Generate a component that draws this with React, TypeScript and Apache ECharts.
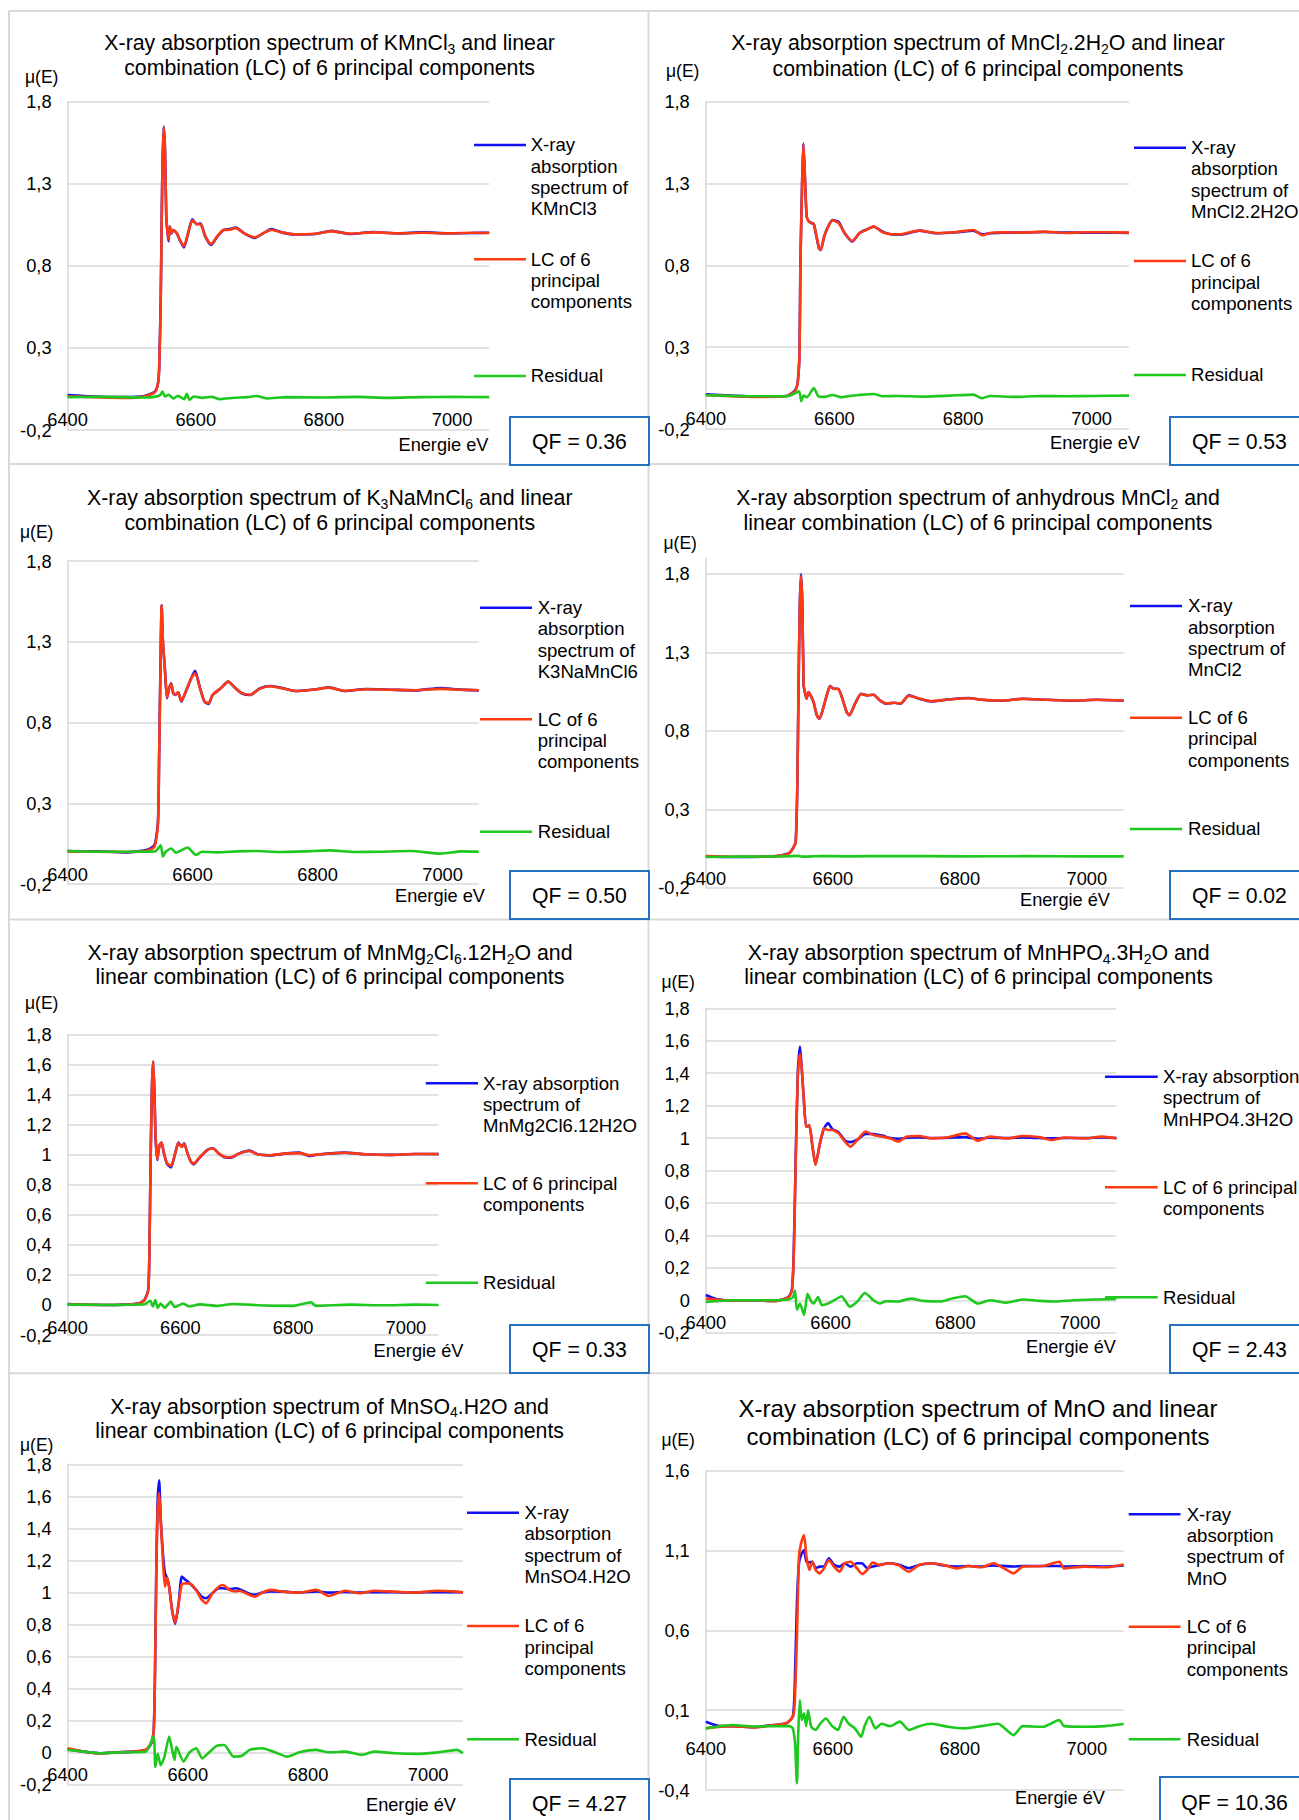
import React, { useEffect, useRef } from "react";
import * as echarts from "echarts";

// ---------------- DATA ----------------
// Panel 1 : KMnCl3
const kmncl3Energy = [6400, 6440, 6488, 6520, 6536, 6541, 6543, 6545.3, 6546.6, 6548, 6550, 6552, 6554, 6556, 6557.6, 6559.6, 6562, 6565, 6570.6, 6575, 6581.6, 6588, 6594.6, 6601, 6607.6, 6615, 6624, 6633.5, 6643, 6653, 6662.7, 6675.7, 6692, 6705, 6718, 6734, 6753.5, 6786, 6812, 6841, 6877, 6916, 6955, 6993.5, 7030, 7058];
const kmncl3Xas = [0.013, 0.004, 0.0, 0.007, 0.033, 0.084, 0.186, 0.59, 1.0, 1.4, 1.648, 1.506, 1.1, 1.0, 0.95, 1.04, 0.998, 1.018, 0.998, 0.957, 0.912, 0.998, 1.083, 1.055, 1.058, 0.978, 0.927, 0.978, 1.018, 1.024, 1.034, 0.998, 0.97, 0.998, 1.024, 1.004, 0.992, 0.994, 1.014, 0.994, 1.006, 0.998, 1.004, 0.998, 1.0, 1.002];
const kmncl3Lc = [0.005, 0.0, -0.004, 0.005, 0.03, 0.08, 0.18, 0.58, 0.99, 1.4, 1.645, 1.51, 1.1, 1.005, 0.96, 1.04, 1.0, 1.018, 0.998, 0.96, 0.92, 0.998, 1.078, 1.055, 1.052, 0.98, 0.932, 0.98, 1.018, 1.02, 1.03, 0.998, 0.974, 0.998, 1.02, 1.004, 0.992, 0.996, 1.01, 0.996, 1.004, 0.998, 1.002, 0.998, 1.002, 1.0];
const kmncl3ResEnergy = [6400, 6460, 6520, 6540, 6545, 6548, 6552, 6558, 6565, 6572, 6582, 6586, 6590, 6597, 6610, 6625, 6637, 6660, 6680, 6695, 6712, 6740, 6800, 6850, 6900, 6950, 7000, 7058];
const kmncl3Residual = [0.0, 0.002, -0.002, 0.005, 0.015, 0.034, 0.005, 0.015, -0.008, 0.008, -0.012, 0.02, -0.016, 0.004, -0.004, 0.002, -0.012, -0.004, 0.0, 0.007, -0.008, 0.0, -0.002, 0.002, -0.004, 0.0, 0.002, 0.0];

// Panel 2 : MnCl2.2H2O
const mncl2h2oEnergy = [6400, 6440, 6474, 6526, 6539, 6543, 6545.8, 6547, 6549.7, 6551.6, 6553.5, 6556.8, 6560.6, 6565, 6568, 6571, 6576, 6578.7, 6584, 6590, 6597, 6606.5, 6616, 6627.7, 6638.7, 6648, 6661, 6674.8, 6690, 6706, 6732, 6758, 6790, 6816, 6830, 6842, 6861, 6894, 6926, 6958, 6990, 7022, 7058];
const mncl2h2oXas = [0.012, 0.004, -0.002, 0.002, 0.038, 0.089, 0.283, 0.79, 1.3, 1.545, 1.4, 1.097, 1.067, 1.057, 1.053, 0.996, 0.904, 0.894, 0.975, 1.036, 1.077, 1.065, 0.996, 0.945, 0.996, 1.016, 1.036, 1.006, 0.989, 0.989, 1.012, 0.996, 1.002, 1.012, 0.99, 0.996, 1.0, 1.0, 1.004, 1.0, 1.0, 1.0, 0.998];
const mncl2h2oLc = [0.008, 0.0, -0.004, 0.002, 0.034, 0.085, 0.27, 0.78, 1.29, 1.54, 1.41, 1.1, 1.065, 1.06, 1.05, 1.0, 0.908, 0.894, 0.975, 1.034, 1.075, 1.058, 0.996, 0.948, 0.996, 1.014, 1.038, 1.002, 0.99, 0.992, 1.012, 0.998, 1.004, 1.016, 0.984, 0.998, 1.002, 1.0, 1.006, 0.998, 1.002, 1.002, 1.0];
const mncl2h2oResEnergy = [6400, 6480, 6530, 6545, 6548.4, 6552, 6557, 6568, 6575, 6584, 6597, 6610, 6623, 6638, 6661, 6675, 6700, 6740, 6780, 6816, 6829, 6842, 6880, 6920, 6960, 7000, 7058];
const mncl2h2oResidual = [0.006, 0.0, 0.002, 0.03, -0.03, 0.004, -0.006, 0.05, 0.0, -0.004, 0.008, -0.006, 0.002, 0.008, 0.014, 0.0, 0.002, -0.002, 0.004, 0.01, -0.012, 0.002, -0.004, 0.002, 0.0, 0.002, 0.004];

// Panel 3 : K3NaMnCl6
const k3namncl6Energy = [6400, 6450, 6493, 6526, 6539, 6544.6, 6546.5, 6548.5, 6550.5, 6552.5, 6556, 6559, 6562.5, 6565.8, 6569, 6572.4, 6577, 6582, 6589, 6597.6, 6604, 6612, 6619, 6625.5, 6632, 6645, 6657, 6668.6, 6678.5, 6692, 6708, 6725, 6745, 6765, 6798, 6818, 6844, 6877, 6917, 6957, 6997, 7023, 7058];
const k3namncl6Xas = [0.004, 0.002, -0.004, 0.01, 0.041, 0.186, 0.6, 1.115, 1.527, 1.3, 1.115, 0.95, 1.012, 1.043, 0.981, 0.97, 0.987, 0.929, 0.99, 1.073, 1.12, 1.012, 0.929, 0.915, 0.97, 1.012, 1.053, 1.012, 0.981, 0.97, 1.012, 1.026, 1.012, 0.995, 1.006, 1.018, 0.995, 1.007, 1.003, 0.999, 1.014, 1.005, 0.999];
const k3namncl6Lc = [0.0, 0.0, -0.002, 0.006, 0.03, 0.17, 0.59, 1.11, 1.527, 1.31, 1.11, 0.955, 1.012, 1.04, 0.985, 0.972, 0.987, 0.932, 0.99, 1.07, 1.105, 1.01, 0.93, 0.92, 0.97, 1.012, 1.053, 1.012, 0.982, 0.972, 1.01, 1.024, 1.01, 0.995, 1.006, 1.016, 0.996, 1.006, 1.003, 1.0, 1.008, 1.004, 1.0];
const k3namncl6ResEnergy = [6400, 6450, 6500, 6540, 6549, 6552.5, 6557, 6566, 6573, 6592, 6605.5, 6615, 6640, 6670, 6700, 6740, 6780, 6820, 6860, 6900, 6950, 6997, 7030, 7058];
const k3namncl6Residual = [0.004, 0.0, 0.0, 0.002, 0.04, -0.03, 0.0, 0.02, -0.006, 0.025, -0.02, 0.0, -0.004, 0.002, 0.004, -0.002, 0.002, 0.008, -0.002, 0.0, 0.004, -0.012, 0.002, 0.0];

// Panel 4 : anhydrous MnCl2
const mncl2Energy = [6400, 6440, 6507.6, 6530, 6537, 6541.5, 6544, 6546, 6548, 6550, 6552, 6554, 6556, 6558.5, 6561.7, 6565, 6569.6, 6574.8, 6579, 6584.6, 6590.4, 6595.6, 6602, 6608.7, 6615, 6621.7, 6626, 6635, 6644.6, 6654, 6664, 6674, 6683.7, 6697, 6706.5, 6719.6, 6736, 6755.4, 6781.5, 6814, 6833.7, 6866, 6899, 6938, 6977, 7016, 7058];
const mncl2Xas = [0.0, -0.004, 0.0, 0.018, 0.05, 0.093, 0.432, 1.068, 1.6, 1.8, 1.6, 1.09, 1.047, 1.005, 1.047, 1.026, 0.983, 0.899, 0.877, 0.941, 1.026, 1.085, 1.068, 1.068, 1.005, 0.92, 0.899, 0.973, 1.036, 1.026, 1.03, 0.994, 0.973, 0.979, 0.973, 1.026, 1.005, 0.988, 1.0, 1.009, 0.998, 0.992, 1.005, 0.998, 0.992, 0.998, 0.992];
const mncl2Lc = [0.002, -0.003, 0.0, 0.016, 0.048, 0.09, 0.42, 1.06, 1.59, 1.79, 1.6, 1.09, 1.05, 1.005, 1.045, 1.026, 0.985, 0.9, 0.879, 0.94, 1.026, 1.083, 1.068, 1.066, 1.006, 0.922, 0.9, 0.973, 1.035, 1.026, 1.03, 0.995, 0.974, 0.979, 0.974, 1.024, 1.006, 0.989, 1.0, 1.008, 0.999, 0.993, 1.004, 0.998, 0.993, 0.998, 0.993];
const mncl2ResEnergy = [6400, 6460, 6520, 6545, 6552, 6580, 6620, 6700, 6800, 6900, 7000, 7058];
const mncl2Residual = [-0.004, -0.002, 0.0, 0.003, -0.002, 0.002, 0.0, 0.002, 0.0, 0.001, 0.0, 0.0];

// Panel 5 : MnMg2Cl6.12H2O
const mnmgEnergy = [6400, 6466, 6525, 6536, 6543, 6545, 6547.4, 6549.6, 6551.8, 6554, 6556, 6559, 6562.8, 6566.5, 6570.9, 6576, 6583.4, 6590.7, 6596.6, 6602.5, 6606.8, 6612.7, 6618.6, 6623.7, 6634.7, 6648, 6658, 6667.7, 6678.7, 6689.7, 6704.4, 6722.7, 6737, 6759, 6788.8, 6810.8, 6829, 6847.4, 6891, 6928, 6972, 7016, 7058];
const mnmgXas = [0.006, 0.0, 0.01, 0.033, 0.1, 0.343, 1.008, 1.452, 1.618, 1.408, 1.119, 0.964, 1.06, 1.08, 1.008, 0.942, 0.915, 1.008, 1.08, 1.053, 1.075, 1.008, 0.953, 0.935, 0.982, 1.031, 1.042, 1.008, 0.982, 0.98, 1.008, 1.026, 1.002, 0.995, 1.008, 1.013, 0.991, 1.002, 1.013, 1.002, 0.998, 1.004, 1.004];
const mnmgLc = [0.004, 0.0, 0.008, 0.03, 0.095, 0.33, 1.0, 1.45, 1.62, 1.41, 1.12, 0.97, 1.058, 1.08, 1.01, 0.945, 0.925, 1.006, 1.078, 1.05, 1.072, 1.008, 0.955, 0.94, 0.984, 1.03, 1.04, 1.008, 0.984, 0.982, 1.008, 1.024, 1.002, 0.996, 1.008, 1.01, 0.996, 1.002, 1.012, 1.002, 0.998, 1.004, 1.003];
const mnmgResEnergy = [6400, 6480, 6536, 6546.7, 6551, 6555.5, 6560, 6565, 6572, 6583, 6590, 6605, 6615, 6635, 6664, 6693, 6750, 6800, 6832, 6840, 6900, 6960, 7020, 7058];
const mnmgResidual = [0.002, 0.0, 0.004, 0.028, -0.01, 0.033, -0.02, 0.01, -0.02, 0.022, -0.014, 0.01, -0.01, 0.004, -0.007, 0.006, -0.004, -0.006, 0.018, -0.006, 0.002, -0.002, 0.002, 0.0];

// Panel 6 : MnHPO4.3H2O
const mnhpo4Energy = [6400, 6416.6, 6443, 6476.5, 6510, 6523, 6533, 6538, 6541, 6544.3, 6547.7, 6551, 6554, 6557.6, 6561, 6566, 6571, 6576, 6583, 6589.6, 6596, 6603, 6613, 6623, 6631.5, 6643, 6656, 6669, 6682.7, 6696, 6708, 6722.6, 6742.6, 6762.5, 6789, 6815.8, 6835.7, 6855.7, 6882, 6909, 6935.5, 6955.4, 6975, 7008.7, 7035, 7058.5];
const mnhpo4Xas = [0.032, 0.008, -0.002, 0.0, -0.004, 0.005, 0.022, 0.063, 0.289, 0.906, 1.42, 1.564, 1.42, 1.214, 1.07, 1.075, 0.95, 0.838, 0.967, 1.06, 1.092, 1.055, 1.035, 0.985, 0.975, 0.99, 1.025, 1.025, 1.015, 1.0, 0.995, 1.002, 1.004, 1.0, 1.002, 1.006, 0.996, 1.002, 1.0, 1.004, 1.0, 0.998, 1.0, 1.0, 1.004, 1.0];
const mnhpo4Lc = [0.01, 0.005, -0.003, 0.0, -0.006, 0.005, 0.02, 0.06, 0.27, 0.88, 1.4, 1.52, 1.42, 1.21, 1.07, 1.08, 0.947, 0.834, 0.967, 1.06, 1.05, 1.05, 1.029, 0.978, 0.947, 0.988, 1.04, 1.019, 1.009, 0.998, 0.978, 1.009, 1.013, 0.998, 1.005, 1.029, 0.984, 1.009, 0.998, 1.013, 1.005, 0.988, 1.003, 0.998, 1.009, 0.998];
const mnhpo4ResEnergy = [6400, 6443, 6510, 6533, 6540, 6543, 6546, 6551, 6557.6, 6563, 6568, 6573, 6580, 6586, 6596, 6606, 6617.5, 6631, 6643, 6655, 6669, 6679, 6689, 6709, 6729, 6749, 6776, 6796, 6815.8, 6836, 6856, 6882, 6909, 6935, 6962, 6989, 7029, 7058];
const mnhpo4Residual = [-0.01, 0.0, 0.0, 0.005, 0.02, 0.06, -0.06, -0.02, -0.09, 0.04, 0.0, -0.02, 0.02, -0.03, -0.02, 0.0, 0.025, -0.04, -0.008, 0.045, 0.0, -0.02, -0.006, -0.008, 0.01, -0.004, -0.008, 0.012, 0.025, -0.02, 0.0, -0.015, 0.005, -0.004, -0.008, 0.0, 0.005, 0.008];

// Panel 7 : MnSO4.H2O
const mnso4Energy = [6400, 6427.6, 6455, 6483, 6510, 6531, 6539.3, 6543.4, 6545.5, 6547.6, 6549.7, 6552.4, 6555, 6558.6, 6562, 6565.5, 6569, 6573.8, 6579, 6584.8, 6590, 6596.6, 6603.4, 6613.8, 6622.8, 6630.3, 6641, 6651.7, 6658.6, 6669, 6680, 6686, 6703, 6711.7, 6724, 6738, 6758.6, 6786, 6813.8, 6834.5, 6862, 6886, 6910, 6945, 6979, 7013.8, 7048, 7058];
const mnso4Xas = [0.02, 0.004, -0.006, 0.0, 0.004, 0.015, 0.056, 0.14, 0.515, 1.14, 1.556, 1.7, 1.452, 1.244, 1.119, 1.088, 1.035, 0.89, 0.802, 0.931, 1.098, 1.077, 1.056, 1.015, 0.973, 0.963, 0.994, 1.025, 1.025, 1.02, 1.025, 1.02, 0.99, 0.985, 0.998, 1.005, 1.004, 0.998, 1.005, 0.998, 1.002, 0.998, 1.002, 1.0, 0.998, 1.002, 1.0, 1.0];
const mnso4Lc = [0.025, 0.004, -0.008, 0.0, 0.004, 0.018, 0.06, 0.14, 0.5, 1.12, 1.5, 1.62, 1.452, 1.2, 1.035, 1.092, 1.035, 0.89, 0.81, 0.931, 1.05, 1.056, 1.056, 1.015, 0.955, 0.931, 0.994, 1.035, 1.046, 1.015, 1.005, 1.01, 0.983, 0.973, 0.998, 1.015, 1.004, 0.998, 1.015, 0.977, 1.01, 0.994, 1.01, 1.004, 0.998, 1.01, 1.004, 0.998];
const mnso4ResEnergy = [6400, 6427, 6455, 6490, 6530, 6543, 6546, 6550, 6555, 6561, 6569, 6574, 6578, 6581, 6593, 6603, 6614, 6624, 6634, 6648, 6660.7, 6676, 6690, 6703, 6724, 6745, 6765.5, 6786, 6813, 6834, 6862, 6890, 6910, 6945, 6979, 7013, 7048, 7058];
const mnso4Residual = [0.015, 0.004, -0.006, 0.0, 0.004, 0.098, -0.09, -0.01, -0.08, -0.03, 0.098, 0.015, -0.048, 0.035, -0.058, 0.0, 0.025, -0.038, -0.006, 0.04, 0.046, -0.027, -0.022, 0.015, 0.025, 0.0, -0.027, 0.0, 0.015, 0.0, 0.004, -0.016, 0.004, -0.006, -0.01, -0.002, 0.015, -0.006];

// Panel 8 : MnO
const mnoEnergy = [6400, 6423, 6442, 6475, 6507.6, 6527, 6537, 6540, 6543.5, 6546.7, 6550, 6554.6, 6558.5, 6563, 6567.6, 6573, 6579, 6586, 6593.7, 6602, 6610.7, 6618.5, 6628, 6638, 6646, 6654, 6662.8, 6674, 6687, 6703, 6719.6, 6736, 6755, 6775, 6794.6, 6814, 6833.7, 6853, 6869.6, 6884.6, 6899, 6931.5, 6956.7, 6964, 6996.7, 7029, 7058];
const mnoXas = [0.028, 0.0, 0.0, -0.006, 0.007, 0.018, 0.06, 0.246, 0.77, 1.02, 1.072, 1.103, 1.03, 1.026, 1.03, 0.99, 0.999, 1.0, 1.051, 1.01, 0.999, 1.02, 0.999, 1.02, 1.02, 0.99, 1.0, 1.009, 1.02, 1.012, 0.99, 1.009, 1.02, 1.006, 1.0, 1.003, 1.0, 1.006, 1.003, 1.0, 1.003, 1.003, 1.003, 1.0, 1.003, 1.0, 1.006];
const mnoLc = [-0.014, -0.003, 0.0, -0.008, 0.007, 0.018, 0.06, 0.143, 0.56, 1.06, 1.145, 1.197, 1.061, 0.978, 1.03, 0.978, 0.957, 0.988, 1.04, 0.999, 0.967, 1.02, 1.03, 0.988, 0.953, 0.978, 1.024, 1.009, 1.02, 1.009, 0.967, 1.009, 1.02, 1.009, 0.988, 1.003, 0.995, 1.02, 0.988, 0.957, 0.999, 1.003, 1.03, 0.988, 0.999, 0.995, 1.013];
const mnoResEnergy = [6400, 6442, 6475, 6507, 6532, 6537, 6540.5, 6543.5, 6545.4, 6548, 6551, 6554.6, 6558, 6561, 6566, 6573, 6580, 6589, 6599, 6608, 6617, 6625, 6635, 6644.6, 6650, 6657.6, 6667, 6677, 6690, 6705.6, 6719.6, 6736, 6755, 6781, 6807, 6833, 6860, 6884.6, 6899, 6931, 6956.7, 6964, 6996, 7029, 7058];
const mnoResidual = [-0.014, 0.007, -0.002, 0.0, 0.0, -0.015, -0.108, -0.358, -0.067, 0.163, 0.038, 0.08, 0.0, 0.1, -0.004, -0.024, 0.015, 0.048, 0.0, -0.024, 0.059, 0.015, -0.015, -0.067, 0.0, 0.059, -0.014, 0.015, 0.0, 0.028, -0.024, 0.0, 0.015, -0.004, -0.014, 0.0, 0.015, -0.056, 0.0, -0.004, 0.038, 0.0, -0.004, 0.0, 0.013];

const qualityFactors = ["0.36", "0.53", "0.50", "0.02", "0.33", "2.43", "4.27", "10.36"];

// ---------------- STYLE / LAYOUT ----------------
const FONT = "'Liberation Sans', Arial, Helvetica, sans-serif";
const BLUE = "#1010f2";
const RED = "#ff3a12";
const GREEN = "#1ec81e";
const GRID_GRAY = "#d9d9d9";
const BOX_BLUE = "#2672c0";

const LC3 = ["LC of 6", "principal", "components"];
const LC2 = ["LC of 6 principal", "components"];

const panels = [
  {
    title: ["X-ray absorption spectrum of KMnCl{s|3} and linear", "combination (LC) of 6 principal components"],
    tx: 329.6, ty: [43.3, 68.3], tSize: 21.3,
    grid: { left: 67.6, top: 101.7, width: 421.6, height: 328.3 },
    yMin: -0.2, yMax: 1.8, yInt: 0.5,
    mu: [25, 77], xName: ["Energie eV", 488.5, 445],
    leg: { x1: 474, x2: 526, tx: 530.7, ys: [145, 259.3, 376], texts: [["X-ray", "absorption", "spectrum of", "KMnCl3"], LC3, ["Residual"]] },
    qf: [510, 417, 139, 48],
    e: kmncl3Energy, xas: kmncl3Xas, lc: kmncl3Lc, re: kmncl3ResEnergy, res: kmncl3Residual,
  },
  {
    title: ["X-ray absorption spectrum of MnCl{s|2}.2H{s|2}O and linear", "combination (LC) of 6 principal components"],
    tx: 978, ty: [43.3, 69.3], tSize: 21.3,
    grid: { left: 705.8, top: 101.7, width: 423.2, height: 327.3 },
    yMin: -0.2, yMax: 1.8, yInt: 0.5,
    mu: [666, 70.7], xName: ["Energie eV", 1140, 443],
    leg: { x1: 1134, x2: 1186, tx: 1191, ys: [147.7, 261, 375], texts: [["X-ray", "absorption", "spectrum of", "MnCl2.2H2O"], LC3, ["Residual"]] },
    qf: [1170, 417, 139, 48],
    e: mncl2h2oEnergy, xas: mncl2h2oXas, lc: mncl2h2oLc, re: mncl2h2oResEnergy, res: mncl2h2oResidual,
  },
  {
    title: ["X-ray absorption spectrum of K{s|3}NaMnCl{s|6} and linear", "combination (LC) of 6 principal components"],
    tx: 329.8, ty: [498.3, 523.3], tSize: 21.3,
    grid: { left: 67.6, top: 561, width: 411.2, height: 323 },
    yMin: -0.2, yMax: 1.8, yInt: 0.5,
    mu: [20, 531.7], xName: ["Energie eV", 485, 895.7],
    leg: { x1: 480, x2: 532, tx: 537.7, ys: [607.7, 719.3, 831.7], texts: [["X-ray", "absorption", "spectrum of", "K3NaMnCl6"], LC3, ["Residual"]] },
    qf: [510, 871, 139, 48],
    e: k3namncl6Energy, xas: k3namncl6Xas, lc: k3namncl6Lc, re: k3namncl6ResEnergy, res: k3namncl6Residual,
  },
  {
    title: ["X-ray absorption spectrum of anhydrous MnCl{s|2} and", "linear combination (LC) of 6 principal components"],
    tx: 978, ty: [498.3, 523.3], tSize: 21.3,
    grid: { left: 705.8, top: 558.3, width: 417.9, height: 329.4 },
    yMin: -0.2, yMax: 1.9, yInt: 0.5,
    mu: [663.5, 543.3], xName: ["Energie éV", 1110, 900],
    leg: { x1: 1130, x2: 1182, tx: 1188, ys: [606, 717.7, 829], texts: [["X-ray", "absorption", "spectrum of", "MnCl2"], LC3, ["Residual"]] },
    qf: [1170, 871, 139, 48],
    e: mncl2Energy, xas: mncl2Xas, lc: mncl2Lc, re: mncl2ResEnergy, res: mncl2Residual,
  },
  {
    title: ["X-ray absorption spectrum of MnMg{s|2}Cl{s|6}.12H{s|2}O and", "linear combination (LC) of 6 principal components"],
    tx: 330, ty: [953.3, 977.3], tSize: 21.3,
    grid: { left: 67.6, top: 1034.3, width: 371, height: 300.7 },
    yMin: -0.2, yMax: 1.8, yInt: 0.2,
    mu: [25, 1003.3], xName: ["Energie éV", 463.5, 1350.7],
    leg: { x1: 425.8, x2: 478, tx: 483, ys: [1083.3, 1183.3, 1282.7], texts: [["X-ray absorption", "spectrum of", "MnMg2Cl6.12H2O"], LC2, ["Residual"]] },
    qf: [510, 1325, 139, 48],
    e: mnmgEnergy, xas: mnmgXas, lc: mnmgLc, re: mnmgResEnergy, res: mnmgResidual,
  },
  {
    title: ["X-ray absorption spectrum of MnHPO{s|4}.3H{s|2}O and", "linear combination (LC) of 6 principal components"],
    tx: 978.6, ty: [953.3, 977.3], tSize: 21.3,
    grid: { left: 705.8, top: 1008.3, width: 410.4, height: 324.4 },
    yMin: -0.2, yMax: 1.8, yInt: 0.2,
    mu: [661.4, 981.7], xName: ["Energie éV", 1116, 1347.3],
    leg: { x1: 1105, x2: 1157.7, tx: 1163, ys: [1076.7, 1187.3, 1297.3], texts: [["X-ray absorption", "spectrum of", "MnHPO4.3H2O"], LC2, ["Residual"]] },
    qf: [1170, 1325, 139, 48],
    e: mnhpo4Energy, xas: mnhpo4Xas, lc: mnhpo4Lc, re: mnhpo4ResEnergy, res: mnhpo4Residual,
  },
  {
    title: ["X-ray absorption spectrum of MnSO{s|4}.H2O and", "linear combination (LC) of 6 principal components"],
    tx: 329.6, ty: [1406.7, 1430.7], tSize: 21.3,
    grid: { left: 67.6, top: 1464.3, width: 395.4, height: 320 },
    yMin: -0.2, yMax: 1.8, yInt: 0.2,
    mu: [20, 1445], xName: ["Energie éV", 456, 1805],
    leg: { x1: 467, x2: 519, tx: 524.4, ys: [1512.7, 1626, 1739.3], texts: [["X-ray", "absorption", "spectrum of", "MnSO4.H2O"], LC3, ["Residual"]] },
    qf: [510, 1779, 139, 48],
    e: mnso4Energy, xas: mnso4Xas, lc: mnso4Lc, re: mnso4ResEnergy, res: mnso4Residual,
  },
  {
    title: ["X-ray absorption spectrum of MnO and linear", "combination (LC) of 6 principal components"],
    tx: 978, ty: [1408.3, 1436.7], tSize: 24,
    grid: { left: 705.8, top: 1470.7, width: 417.9, height: 319.3 },
    yMin: -0.4, yMax: 1.6, yInt: 0.5,
    mu: [661.4, 1440], xName: ["Energie éV", 1105, 1797.7],
    leg: { x1: 1128.7, x2: 1180.5, tx: 1186.7, ys: [1514.3, 1626.7, 1739.3], texts: [["X-ray", "absorption", "spectrum of", "MnO"], LC3, ["Residual"]] },
    qf: [1160, 1777, 149, 50],
    e: mnoEnergy, xas: mnoXas, lc: mnoLc, re: mnoResEnergy, res: mnoResidual,
  },
];

const zip = (xs: number[], ys: number[]) => xs.map((x, i) => [x, ys[i]]);
const fmtComma = (v: number) => String(Math.round(v * 10) / 10).replace(".", ",");

function buildOption() {
  const grid: any[] = [];
  const xAxis: any[] = [];
  const yAxis: any[] = [];
  const series: any[] = [];
  const elements: any[] = [];

  // panel borders
  [9, 648.5].forEach((x) =>
    elements.push({ type: "line", silent: true, shape: { x1: x, y1: 11, x2: x, y2: 1830 }, style: { stroke: GRID_GRAY, lineWidth: 2 } })
  );
  [11, 464, 919.5, 1373.3].forEach((y) =>
    elements.push({ type: "line", silent: true, shape: { x1: 9, y1: y, x2: 1310, y2: y }, style: { stroke: GRID_GRAY, lineWidth: 2 } })
  );

  panels.forEach((p, i) => {
    grid.push({ ...p.grid, containLabel: false, show: false });
    // the horizontal axis crosses the vertical one at μ = 0: shift it up from the grid bottom
    const crossOffset = -((0 - p.yMin) / (p.yMax - p.yMin)) * p.grid.height;
    xAxis.push({
      type: "value",
      gridIndex: i,
      position: "bottom",
      offset: crossOffset,
      min: 6400,
      max: 7058,
      interval: 200,
      axisLine: { show: false, onZero: false },
      axisTick: { show: false },
      splitLine: { show: false },
      axisLabel: {
        fontFamily: FONT, fontSize: 18.3, color: "#000", margin: 13.5,
        showMaxLabel: false, showMinLabel: true,
        formatter: (v: number) => String(v),
      },
    });
    yAxis.push({
      type: "value",
      gridIndex: i,
      min: p.yMin,
      max: p.yMax,
      interval: p.yInt,
      axisLine: { show: true, onZero: false, lineStyle: { color: GRID_GRAY, width: 1.5 } },
      axisTick: { show: false },
      splitLine: { show: true, showMaxLine: p.yMax !== 1.9, lineStyle: { color: GRID_GRAY, width: 1.5 } },
      axisLabel: {
        fontFamily: FONT,
        fontSize: 18.3,
        color: "#000",
        margin: 16,
        showMinLabel: true,
        showMaxLabel: p.yMax !== 1.9,
        formatter: (v: number) => fmtComma(v),
      },
    });
    const common = { type: "line", xAxisIndex: i, yAxisIndex: i, showSymbol: false, symbol: "none", smooth: 0.2, silent: true };
    series.push({ ...common, name: "X-ray absorption spectrum", data: zip(p.e, p.xas), lineStyle: { color: BLUE, width: 2.6 }, itemStyle: { color: BLUE } });
    series.push({ ...common, name: "LC of 6 principal components", data: zip(p.e, p.lc), lineStyle: { color: RED, width: 2.6 }, itemStyle: { color: RED } });
    series.push({ ...common, name: "Residual", data: zip(p.re, p.res), lineStyle: { color: GREEN, width: 2.6 }, itemStyle: { color: GREEN } });

    // title lines
    p.title.forEach((line, k) =>
      elements.push({
        type: "text",
        silent: true,
        x: p.tx,
        y: p.ty[k],
        style: {
          text: line,
          fontFamily: FONT,
          fontSize: p.tSize,
          fill: "#000",
          align: "center",
          verticalAlign: "middle",
          lineHeight: p.tSize + 4,
          rich: { s: { fontFamily: FONT, fontSize: Math.round(p.tSize * 0.66), lineHeight: Math.round(p.tSize * 0.66), verticalAlign: "bottom", fill: "#000" } },
        },
      })
    );
    // μ(E)
    elements.push({
      type: "text", silent: true, x: p.mu[0], y: p.mu[1],
      style: { text: "μ(E)", fontFamily: FONT, fontSize: 17.5, fill: "#000", align: "left", verticalAlign: "middle" },
    });
    // Energie eV
    elements.push({
      type: "text", silent: true, x: p.xName[1] as number, y: p.xName[2] as number,
      style: { text: p.xName[0] as string, fontFamily: FONT, fontSize: 18.2, fill: "#000", align: "right", verticalAlign: "middle" },
    });
    // legend
    const colors = [BLUE, RED, GREEN];
    p.leg.texts.forEach((lines, k) => {
      const y = p.leg.ys[k];
      elements.push({ type: "line", silent: true, z: 5, shape: { x1: p.leg.x1, y1: y, x2: p.leg.x2, y2: y }, style: { stroke: colors[k], lineWidth: 2.6 } });
      elements.push({
        type: "text", silent: true, z: 5, x: p.leg.tx, y: y - 10.65,
        style: { text: lines.join("\n"), fontFamily: FONT, fontSize: 18.6, lineHeight: 21.3, fill: "#000", align: "left", verticalAlign: "top" },
      });
    });
    // QF box
    const [bx, by, bw, bh] = p.qf;
    elements.push({ type: "rect", silent: true, z: 10, shape: { x: bx, y: by, width: bw, height: bh }, style: { fill: "#fff", stroke: BOX_BLUE, lineWidth: 2 } });
    elements.push({
      type: "text", silent: true, z: 11, x: bx + bw / 2, y: by + bh / 2,
      style: { text: "QF = " + qualityFactors[i], fontFamily: FONT, fontSize: 21.2, fill: "#000", align: "center", verticalAlign: "middle" },
    });
  });

  return {
    animation: false,
    backgroundColor: "#ffffff",
    textStyle: { fontFamily: FONT },
    grid,
    xAxis,
    yAxis,
    series,
    graphic: { elements },
  };
}

export default function App() {
  const ref = useRef<HTMLDivElement>(null);
  useEffect(() => {
    if (!ref.current) return;
    const chart = echarts.init(ref.current, null, { renderer: "svg" });
    chart.setOption(buildOption() as any);
    return () => chart.dispose();
  }, []);
  return (
    <div
      ref={ref}
      style={{ position: "absolute", left: 0, top: 0, width: 1299, height: 1820, background: "#fff" }}
    />
  );
}
